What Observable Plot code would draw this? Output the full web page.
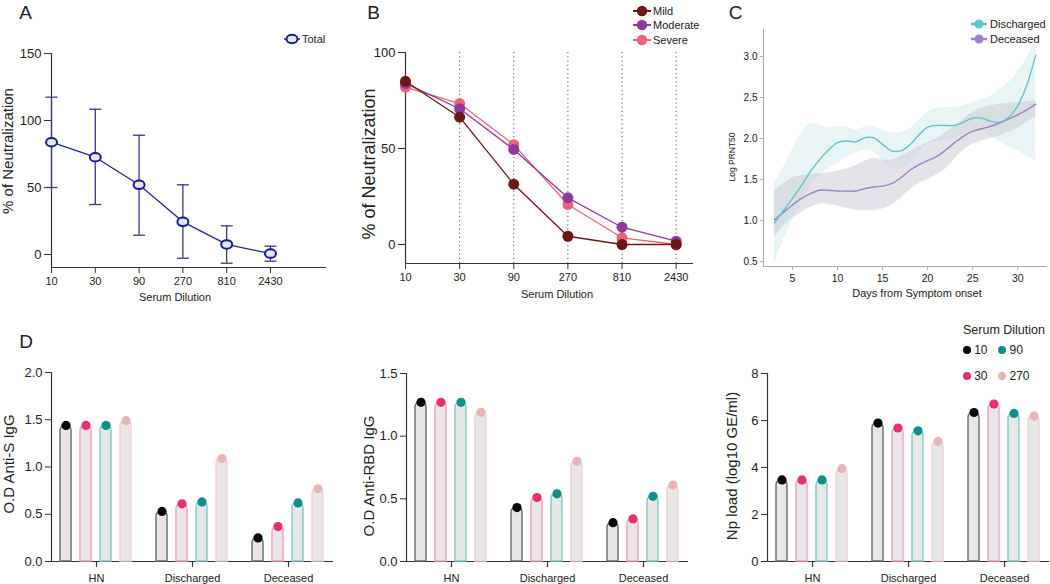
<!DOCTYPE html>
<html><head><meta charset="utf-8">
<script src="https://cdn.jsdelivr.net/npm/d3@7"></script>
<script src="https://cdn.jsdelivr.net/npm/@observablehq/plot@0.6"></script>
<style>
body{margin:0;background:#fff;}
#fig{position:relative;width:1050px;height:584px;overflow:hidden;font-family:"Liberation Sans",Arial,Helvetica,sans-serif;color:#222;background:#fff;}
#fig svg.layer{position:absolute;left:0;top:0;}
.t{position:absolute;white-space:nowrap;line-height:1;}
.c{transform:translate(-50%,-50%);}
.r{transform:translate(-50%,-50%) rotate(-90deg);}
.l{transform:translate(0,-50%);}
.mk{position:absolute;overflow:visible;}
</style></head><body><div id="fig"></div><script>
// ---------- Panel A data ----------
const dilutions = [10, 30, 90, 270, 810, 2430];
const totalMean = [83.8, 72.6, 52.0, 24.4, 7.5, 0.7];
const totalHigh = [117.4, 108.4, 89.0, 52.0, 21.4, 6.2];
const totalLow  = [50.0, 37.3, 14.4, -2.8, -6.5, -5.0];
// ---------- Panel B data ----------
const severityNames = ["Mild", "Moderate", "Severe"];
const mildVals     = [85.0, 66.3, 31.4, 4.3, 0.0, 0.0];
const moderateVals = [83.9, 70.7, 49.5, 24.3, 9.0, 1.7];
const severeVals   = [82.0, 73.4, 52.0, 20.8, 3.5, 0.0];
// ---------- Panel C data ----------
const days = [3,4,5,6,7,8,9,10,11,12,13,14,15,16,17,18,19,20,21,22,23,24,25,26,27,28,29,30,31,32];
const dischMean = [0.97,1.12,1.27,1.43,1.60,1.74,1.86,1.95,1.97,1.96,2.01,2.01,1.93,1.85,1.85,1.92,2.04,2.14,2.16,2.16,2.16,2.20,2.25,2.25,2.21,2.20,2.26,2.40,2.65,3.02];
const dischHigh = [1.45,1.65,1.87,2.07,2.18,2.17,2.13,2.15,2.14,2.10,2.14,2.15,2.10,2.07,2.08,2.12,2.22,2.32,2.37,2.38,2.38,2.40,2.44,2.48,2.52,2.60,2.68,2.82,2.98,3.20];
const dischLow  = [0.47,0.75,1.00,1.22,1.42,1.55,1.63,1.70,1.77,1.82,1.86,1.84,1.73,1.64,1.63,1.70,1.82,1.93,1.97,1.98,2.00,2.05,2.10,2.10,2.03,1.96,1.90,1.85,1.78,1.73];
const decMean = [1.01,1.10,1.19,1.27,1.33,1.37,1.37,1.36,1.36,1.36,1.39,1.41,1.42,1.45,1.52,1.61,1.68,1.73,1.78,1.86,1.95,2.03,2.09,2.12,2.15,2.19,2.24,2.29,2.35,2.42];
const decHigh = [1.36,1.45,1.52,1.55,1.56,1.57,1.58,1.60,1.63,1.67,1.72,1.76,1.74,1.74,1.78,1.84,1.90,1.95,2.00,2.07,2.15,2.24,2.32,2.37,2.40,2.42,2.43,2.44,2.45,2.46];
const decLow  = [0.79,0.93,1.03,1.10,1.16,1.20,1.20,1.18,1.15,1.13,1.12,1.12,1.14,1.19,1.27,1.37,1.45,1.50,1.56,1.63,1.75,1.86,1.93,1.97,2.00,2.03,2.08,2.13,2.20,2.26];
// ---------- Panel D data ----------
const groups = ["HN", "Discharged", "Deceased"];
const serumDilutions = [10, 30, 90, 270];
const antiS   = [[1.44,1.44,1.44,1.49],[0.53,0.61,0.63,1.09],[0.25,0.37,0.62,0.77]];
const antiRBD = [[1.27,1.27,1.27,1.19],[0.43,0.51,0.54,0.80],[0.31,0.34,0.52,0.61]];
const npLoad  = [[3.47,3.47,3.47,3.95],[5.89,5.68,5.56,5.11],[6.34,6.70,6.30,6.19]];

// ---------- helpers ----------
const fig = document.getElementById("fig");
const FONT = '"Liberation Sans", Arial, Helvetica, sans-serif';
function layer(opts){
  const svg = Plot.plot(Object.assign({width:1050, height:584,
    style:{background:"transparent", fontFamily:FONT, fontSize:"12px", color:"#222", overflow:"visible"}}, opts));
  svg.classList.add("layer");
  fig.appendChild(svg);
}
function txt(s, x, y, size, cls, extra){
  const d = document.createElement("div");
  d.className = "t " + (cls||"c");
  d.textContent = s;
  d.style.left = x + "px"; d.style.top = y + "px"; d.style.fontSize = size + "px";
  if (extra) Object.assign(d.style, extra);
  fig.appendChild(d);
}
function marker(x, y, inner){
  const ns = "http://www.w3.org/2000/svg";
  const s = document.createElementNS(ns, "svg");
  s.setAttribute("class","mk"); s.setAttribute("width","24"); s.setAttribute("height","16");
  s.setAttribute("viewBox","-12 -8 24 16");
  s.style.left = (x-12)+"px"; s.style.top = (y-8)+"px";
  s.innerHTML = inner;
  fig.appendChild(s);
}
const cap = {draw(ctx, size){const r = Math.sqrt(size/Math.PI); ctx.moveTo(-r,0); ctx.lineTo(r,0);}};
const ellipse = {draw(ctx, size){
  const r = Math.sqrt(size/Math.PI), a = r*1.1, b = r*0.86, k = 0.5523;
  ctx.moveTo(a,0);
  ctx.bezierCurveTo(a,k*b,k*a,b,0,b);
  ctx.bezierCurveTo(-k*a,b,-a,k*b,-a,0);
  ctx.bezierCurveTo(-a,-k*b,-k*a,-b,0,-b);
  ctx.bezierCurveTo(k*a,-b,a,-k*b,a,0);
  ctx.closePath();
}};

// ---------- Panel A ----------
const aData = dilutions.map((d,i)=>({dilution:d, mean:totalMean[i], lo:totalLow[i], hi:totalHigh[i]}));
layer({
  marginLeft:51, marginRight:724, marginTop:53, marginBottom:317,
  x:{type:"log", base:3, domain:[10, 9910]},
  y:{domain:[-9.7, 150]},
  marks:[
    Plot.ruleX([10], {stroke:"#333", strokeWidth:1.2}),
    Plot.ruleY([-9.7], {stroke:"#333", strokeWidth:1.2}),
    Plot.axisY({ticks:[0,50,100,150], tickSize:7, tickPadding:3, fontSize:13, label:null, stroke:"#333"}),
    Plot.axisX({ticks:dilutions, tickFormat:d=>String(d), tickSize:6, tickPadding:4, fontSize:11, label:null, stroke:"#333"}),
    Plot.ruleX(aData, {x:"dilution", y1:"lo", y2:"hi", stroke:"#3f3682", strokeWidth:1.3}),
    Plot.dot(aData, {x:"dilution", y:"hi", symbol:cap, r:6, fill:"none", stroke:"#3f3682", strokeWidth:1.3}),
    Plot.dot(aData, {x:"dilution", y:"lo", symbol:cap, r:6, fill:"none", stroke:"#3f3682", strokeWidth:1.3}),
    Plot.line(aData, {x:"dilution", y:"mean", stroke:"#1f2a8c", strokeWidth:1.3}),
    Plot.dot(aData, {x:"dilution", y:"mean", symbol:ellipse, r:5, fill:"#e6e6e6", stroke:"#101e8e", strokeWidth:2})
  ]
});

// ---------- Panel B ----------
const sevColors = {Mild:"#6b1717", Moderate:"#8f3b9c", Severe:"#ec6279"};
const sevValues = {Mild:mildVals, Moderate:moderateVals, Severe:severeVals};
const bData = severityNames.flatMap(s => dilutions.map((d,i)=>({severity:s, dilution:d, value:sevValues[s][i]})));
layer({
  marginLeft:405, marginRight:357, marginTop:52, marginBottom:321,
  x:{type:"log", base:3, domain:[10, 3456]},
  y:{domain:[-9.9, 100]},
  marks:[
    Plot.ruleX(dilutions.slice(1), {stroke:"#555", strokeWidth:1, strokeDasharray:"1.2,3"}),
    Plot.ruleX([10], {stroke:"#333", strokeWidth:1.2}),
    Plot.ruleY([-9.9], {stroke:"#333", strokeWidth:1.2}),
    Plot.axisY({ticks:[0,50,100], tickSize:7, tickPadding:3, fontSize:13, label:null, stroke:"#333"}),
    Plot.axisX({ticks:dilutions, tickFormat:d=>String(d), tickSize:6, tickPadding:4, fontSize:11, label:null, stroke:"#333"}),
    ...["Severe","Moderate","Mild"].flatMap(s => [
      Plot.line(bData.filter(d=>d.severity===s), {x:"dilution", y:"value", stroke:sevColors[s], strokeWidth:1.3}),
      Plot.dot(bData.filter(d=>d.severity===s), {x:"dilution", y:"value", r:5.5, fill:sevColors[s]})
    ])
  ]
});

// ---------- Panel C ----------
const cRows = days.map((d,i)=>({day:d, dm:dischMean[i], dl:dischLow[i], dh:dischHigh[i], cm:decMean[i], cl:decLow[i], ch:decHigh[i]}));
layer({
  marginLeft:763, marginRight:3, marginTop:29, marginBottom:318,
  x:{domain:[1.79, 33.3]},
  y:{domain:[0.44, 3.33]},
  marks:[
    Plot.areaY(cRows, {x:"day", y1:"dl", y2:"dh", fill:"#cfe8e8", fillOpacity:0.45, curve:"catmull-rom"}),
    Plot.areaY(cRows, {x:"day", y1:"cl", y2:"ch", fill:"#c4c4cc", fillOpacity:0.45, curve:"catmull-rom"}),
    Plot.ruleX([1.79], {stroke:"#aaa"}),
    Plot.ruleY([0.44], {stroke:"#aaa"}),
    Plot.axisY({ticks:[0.5,1,1.5,2,2.5,3], tickFormat:d3.format(".1f"), tickSize:3, tickPadding:3, fontSize:10, label:null, stroke:"#aaa"}),
    Plot.axisX({ticks:[5,10,15,20,25,30], tickSize:4, tickPadding:4, fontSize:10.5, label:null, stroke:"#aaa"}),
    Plot.line(cRows, {x:"day", y:"cm", stroke:"#9d82c4", strokeWidth:1.4, curve:"catmull-rom"}),
    Plot.line(cRows, {x:"day", y:"dm", stroke:"#5ec6cb", strokeWidth:1.4, curve:"catmull-rom"})
  ]
});

// ---------- Panel D ----------
const barStroke = ["#6a6a6a", "#f29fba", "#7fcac8", "#f3cfd1"];
const dotFill   = ["#050505", "#ea2f6e", "#0d8f8b", "#e9b4b6"];
function panelD(values, L, R, T, B, ymax, ticks, fmt){
  const rows = groups.flatMap((g,gi) => serumDilutions.map((s,si)=>({group:g, dilution:s, value:values[gi][si]})));
  const margins = {marginLeft:L, marginRight:1050-R, marginTop:T, marginBottom:584-B};
  layer(Object.assign({}, margins, {
    x:{domain:[0,1], axis:null},
    y:{domain:[0,ymax]},
    marks:[
      Plot.ruleX([0], {stroke:"#333", strokeWidth:1.2}),
      Plot.ruleY([0], {stroke:"#333", strokeWidth:1.2}),
      Plot.axisY({ticks, tickFormat:fmt, tickSize:6, tickPadding:3, fontSize:13, label:null, stroke:"#333"})
    ]
  }));
  layer(Object.assign({}, margins, {
    fx:{domain:groups, paddingInner:0.1, paddingOuter:0.014},
    x:{domain:serumDilutions, paddingInner:0.43, paddingOuter:0.32, axis:null},
    y:{domain:[0,ymax], axis:null},
    marks:[
      Plot.axisFx({anchor:"bottom", tickSize:6, tickPadding:7, fontSize:11, label:null, stroke:"#333", strokeWidth:1.2}),
      ...serumDilutions.flatMap((s,k) => [
        Plot.barY(rows.filter(r=>r.dilution===s), {fx:"group", x:"dilution", y:"value", fill:"#e7e7e7", stroke:barStroke[k], strokeWidth:1.4, ry1:5}),
        Plot.dot(rows.filter(r=>r.dilution===s), {fx:"group", x:"dilution", y:"value", r:4.6, fill:dotFill[k]})
      ])
    ]
  }));
}
panelD(antiS,   51,  333,  372, 561, 2.0, [0,0.5,1,1.5,2], d3.format(".1f"));
panelD(antiRBD, 406, 688,  373, 561, 1.5, [0,0.5,1,1.5], d3.format(".1f"));
panelD(npLoad,  767, 1049, 373, 561, 8,   [0,2,4,6,8], d3.format("d"));

// ---------- Text: panel letters & axis titles ----------
txt("A", 25.5, 11.5, 19);
txt("B", 373.5, 11.5, 19);
txt("C", 735.5, 11.5, 19);
txt("D", 26, 340.5, 19);
txt("% of Neutralization", 7, 151, 15, "r");
txt("Serum Dilution", 175, 297, 11);
txt("% of Neutralization", 369, 164, 18, "r");
txt("Serum Dilution", 557, 294, 11);
txt("Log PRNT50", 731.7, 157, 8.5, "r");
txt("Days from Symptom onset", 917, 293, 11);
txt("O.D Anti-S IgG", 8, 464, 15, "r");
txt("O.D Anti-RBD IgG", 368, 476, 15, "r");
txt("Np load (log10 GE/ml)", 731, 466, 15, "r");

// ---------- Legends ----------
marker(291.7, 39, '<line x1="-8" x2="8" y1="0" y2="0" stroke="#1f2a8c" stroke-width="1.5"/><ellipse cx="0" cy="0" rx="5.5" ry="4.3" fill="#e6e6e6" stroke="#101e8e" stroke-width="2"/>');
txt("Total", 302, 39, 11, "l");
[["Mild",10.7],["Moderate",25],["Severe",40]].forEach(([n,y])=>{
  marker(641.7, y, `<line x1="-9" x2="9" y1="0" y2="0" stroke="${sevColors[n]}" stroke-width="2"/><circle r="5.2" fill="${sevColors[n]}"/>`);
  txt(n, 653, y, 11, "l");
});
[["Discharged","#5ec6cb",24.3],["Deceased","#9d82c4",39.3]].forEach(([n,c,y])=>{
  marker(979, y, `<line x1="-8" x2="8" y1="0" y2="0" stroke="${c}" stroke-width="2.5"/><circle r="4.5" fill="${c}"/>`);
  txt(n, 990, y, 11, "l");
});
txt("Serum Dilution", 963, 330, 12.5, "l");
[[0,966.7,350],[2,1002,350],[1,966.7,375.7],[3,1002,375.7]].forEach(([k,x,y])=>{
  marker(x, y, `<circle r="4" fill="${dotFill[k]}"/>`);
  txt(String(serumDilutions[k]), x+7.5, y, 12, "l");
});
</script></body></html>
